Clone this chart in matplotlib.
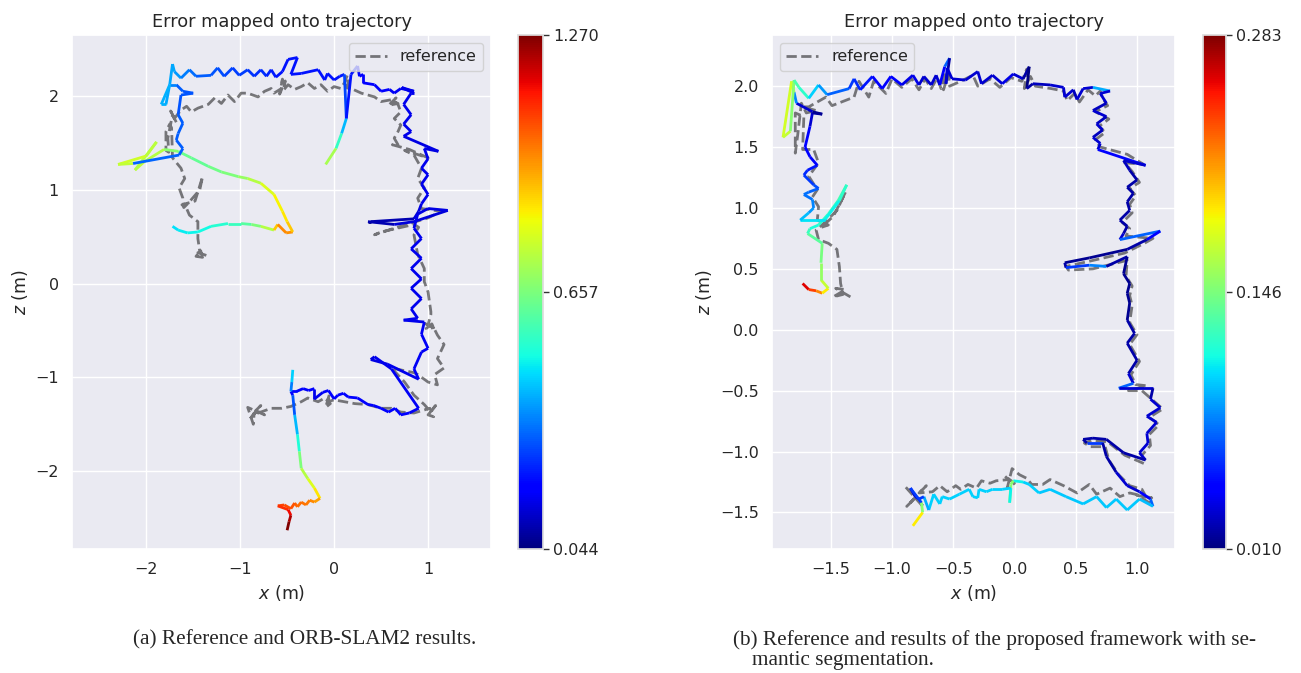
import numpy as np
import matplotlib
matplotlib.use("Agg")
import matplotlib.pyplot as plt
from matplotlib.collections import LineCollection
from matplotlib.colors import Normalize
from matplotlib.cm import ScalarMappable
import seaborn as sns

sns.set_theme(style="darkgrid")
plt.rcParams['font.family'] = ['DejaVu Sans']

nan = np.nan

# ORB-SLAM2 estimate (x, z, APE error); nan rows split the line into pieces
est_a = np.array([
    (-1.72, 0.61, 0.46), (-1.66, 0.57, 0.47), (-1.56, 0.54, 0.48), (-1.45, 0.55, 0.49),
    (-1.31, 0.61, 0.50), (-1.13, 0.64, 0.53), (-0.99, 0.64, 0.56), (-0.88, 0.63, 0.60),
    (-0.78, 0.61, 0.66), (-0.64, 0.57, 0.74), (-0.60, 0.63, 0.90), (-0.51, 0.54, 0.98),
    (-0.44, 0.55, 0.97), (-0.50, 0.66, 0.90), (-0.55, 0.77, 0.86), (-0.64, 0.95, 0.84),
    (-0.78, 1.07, 0.80), (-0.92, 1.12, 0.74), (-1.02, 1.14, 0.70), (-1.20, 1.19, 0.66),
    (-1.34, 1.25, 0.64), (-1.52, 1.34, 0.62), (-1.66, 1.41, 0.63), (-1.81, 1.43, 0.68),
    (-2.02, 1.30, 0.74), (-2.12, 1.21, 0.76), (-1.89, 1.51, 0.74), (-2.00, 1.36, 0.75),
    (-2.30, 1.27, 0.78), (-2.14, 1.28, 0.76), (-1.65, 1.37, 0.32), (-1.61, 1.44, 0.31),
    (-1.68, 1.53, 0.31), (-1.66, 1.60, 0.31), (-1.61, 1.71, 0.31), (-1.66, 1.80, 0.31),
    (-1.63, 2.01, 0.30), (-1.50, 2.03, 0.30), (-1.61, 2.05, 0.30), (-1.68, 2.12, 0.31),
    (-1.75, 2.12, 0.36), (-1.79, 1.91, 0.40), (-1.84, 1.91, 0.41), (-1.75, 2.12, 0.41),
    (-1.72, 2.34, 0.40), (-1.70, 2.26, 0.40), (-1.63, 2.19, 0.38), (-1.54, 2.28, 0.35),
    (-1.47, 2.21, 0.33), (-1.31, 2.22, 0.31), (-1.24, 2.30, 0.30), (-1.17, 2.21, 0.29),
    (-1.08, 2.30, 0.28), (-1.01, 2.22, 0.27), (-0.92, 2.28, 0.27), (-0.85, 2.21, 0.26),
    (-0.78, 2.28, 0.25), (-0.72, 2.21, 0.25), (-0.67, 2.28, 0.24), (-0.62, 2.20, 0.23),
    (-0.55, 2.26, 0.22), (-0.49, 2.39, 0.22), (-0.39, 2.41, 0.22), (-0.46, 2.23, 0.22),
    (-0.35, 2.24, 0.22), (-0.17, 2.28, 0.22), (-0.10, 2.17, 0.22), (-0.07, 2.24, 0.22),
    (0.00, 2.17, 0.22), (0.06, 2.21, 0.22), (0.11, 2.23, 0.23), (0.13, 1.76, 0.28),
    (0.08, 1.60, 0.42), (0.02, 1.44, 0.55), (-0.09, 1.27, 0.72),
    (nan, nan, nan),
    (0.13, 1.76, 0.28), (0.18, 2.23, 0.22), (0.25, 2.32, 0.22), (0.27, 2.21, 0.20),
    (0.31, 2.23, 0.20), (0.31, 2.14, 0.19), (0.43, 2.12, 0.19), (0.50, 2.05, 0.18),
    (0.59, 2.07, 0.18), (0.64, 2.03, 0.17), (0.71, 2.08, 0.17), (0.85, 2.05, 0.16),
    (0.72, 2.09, 0.16), (0.85, 2.03, 0.16), (0.82, 2.03, 0.16), (0.74, 1.91, 0.16),
    (0.82, 1.80, 0.16), (0.74, 1.70, 0.16), (0.82, 1.62, 0.16), (0.74, 1.57, 0.16),
    (1.11, 1.41, 0.15), (0.96, 1.44, 0.15), (1.00, 1.33, 0.16), (0.93, 1.23, 0.16),
    (1.00, 1.16, 0.16), (0.93, 1.06, 0.16), (1.00, 0.95, 0.16), (0.93, 0.85, 0.16),
    (0.90, 0.77, 0.15), (0.85, 0.69, 0.14), (0.39, 0.66, 0.10), (0.36, 0.66, 0.044),
    (0.64, 0.63, 0.10), (0.85, 0.66, 0.14), (1.21, 0.78, 0.14), (1.00, 0.80, 0.15),
    (0.89, 0.74, 0.15), (0.85, 0.59, 0.16), (0.93, 0.48, 0.16), (0.82, 0.37, 0.16),
    (0.93, 0.27, 0.16), (0.82, 0.16, 0.16), (0.93, 0.05, 0.16), (0.82, -0.05, 0.16),
    (0.93, -0.16, 0.16), (0.82, -0.27, 0.16), (0.89, -0.37, 0.16), (0.74, -0.39, 0.16),
    (0.96, -0.41, 0.16), (0.93, -0.54, 0.17), (1.00, -0.69, 0.17), (0.93, -0.73, 0.17),
    (0.85, -0.91, 0.17), (0.90, -1.02, 0.17), (0.57, -0.86, 0.16), (0.39, -0.81, 0.15),
    (0.43, -0.78, 0.15), (0.61, -0.91, 0.16), (0.90, -1.33, 0.17), (0.80, -1.38, 0.17),
    (0.71, -1.40, 0.18), (0.65, -1.33, 0.18), (0.58, -1.37, 0.18), (0.50, -1.33, 0.18),
    (0.42, -1.30, 0.18), (0.36, -1.29, 0.18), (0.25, -1.22, 0.18), (0.15, -1.21, 0.18),
    (0.10, -1.17, 0.18), (0.04, -1.19, 0.18), (0.00, -1.23, 0.18), (-0.06, -1.14, 0.18),
    (-0.12, -1.16, 0.18), (-0.21, -1.23, 0.16), (-0.21, -1.12, 0.16), (-0.27, -1.14, 0.18),
    (-0.33, -1.12, 0.19), (-0.40, -1.15, 0.19), (-0.46, -1.15, 0.20), (-0.44, -1.19, 0.20),
    (-0.42, -1.40, 0.30), (-0.39, -1.61, 0.42), (-0.37, -1.79, 0.52), (-0.35, -1.97, 0.66),
    (-0.28, -2.08, 0.74), (-0.21, -2.18, 0.80), (-0.15, -2.29, 0.86), (-0.21, -2.33, 0.95),
    (-0.26, -2.31, 0.98), (-0.30, -2.36, 1.00), (-0.35, -2.33, 1.01), (-0.39, -2.38, 1.02),
    (-0.42, -2.34, 1.03), (-0.46, -2.40, 1.05), (-0.53, -2.36, 1.06), (-0.60, -2.37, 1.07),
    (-0.49, -2.41, 1.10), (-0.46, -2.47, 1.15), (-0.48, -2.54, 1.22), (-0.50, -2.63, 1.27),
    (nan, nan, nan),
    (-0.46, -1.15, 0.20), (-0.45, -1.05, 0.35), (-0.44, -0.92, 0.45),
])
est_a_x, est_a_z, est_a_err = est_a[:, 0], est_a[:, 1], est_a[:, 2]

ref_a = np.array([
    (-1.36, 0.30), (-1.45, 0.33), (-1.40, 0.28), (-1.47, 0.29), (-1.42, 0.35), (-1.41, 0.31),
    (-1.43, 0.34), (-1.45, 0.48), (-1.45, 0.66), (-1.54, 0.73), (-1.57, 0.80), (-1.62, 0.84),
    (-1.48, 0.88), (-1.40, 1.14), (-1.43, 1.00), (-1.55, 0.86), (-1.60, 0.81), (-1.61, 0.91),
    (-1.65, 1.02), (-1.59, 1.12), (-1.63, 1.23), (-1.72, 1.34), (-1.73, 1.66), (-1.75, 1.70),
    (-1.79, 1.62), (-1.79, 1.42), (-1.76, 1.40), (-1.77, 1.55), (-1.72, 1.80), (-1.68, 1.72),
    (-1.74, 1.84), (-1.70, 1.76), (-1.63, 1.85), (-1.57, 1.89), (-1.52, 1.83), (-1.45, 1.87),
    (-1.34, 1.91), (-1.27, 1.98), (-1.20, 1.92), (-1.13, 2.01), (-1.06, 1.94), (-0.99, 2.03),
    (-0.92, 2.03), (-0.81, 1.99), (-0.74, 2.05), (-0.67, 2.08), (-0.64, 2.03), (-0.56, 2.08),
    (-0.55, 2.18), (-0.58, 2.02), (-0.52, 2.16), (-0.54, 2.06), (-0.49, 2.12), (-0.42, 2.07),
    (-0.35, 2.10), (-0.28, 2.14), (-0.21, 2.08), (-0.14, 2.12), (-0.07, 2.05), (0.00, 2.10),
    (0.07, 2.08), (0.11, 2.14), (0.14, 2.22), (0.16, 2.05), (0.12, 2.12), (0.18, 2.08),
    (0.29, 2.03), (0.43, 1.99), (0.50, 1.94), (0.61, 1.96), (0.66, 1.98), (0.58, 1.90),
    (0.68, 1.92), (0.62, 1.95), (0.68, 1.91), (0.71, 1.83), (0.64, 1.76), (0.71, 1.69),
    (0.68, 1.62), (0.64, 1.55), (0.68, 1.48), (0.62, 1.48), (0.80, 1.43), (1.00, 1.34),
    (0.75, 1.42), (0.85, 1.37), (0.93, 1.23), (0.89, 1.12), (0.96, 1.02), (0.89, 0.91),
    (0.93, 0.80), (1.14, 0.77), (1.00, 0.70), (0.64, 0.59), (0.43, 0.52), (0.50, 0.55),
    (0.85, 0.63), (0.90, 0.60), (0.85, 0.52), (0.89, 0.31), (0.96, 0.16), (0.96, 0.02),
    (1.00, -0.09), (1.03, -0.30), (1.03, -0.33), (1.00, -0.44), (0.95, -0.42), (1.06, -0.47),
    (0.98, -0.48), (1.04, -0.43), (1.10, -0.55), (1.17, -0.65), (1.10, -0.80), (1.17, -0.90),
    (1.07, -0.97), (1.10, -1.08), (1.00, -1.05), (0.89, -0.97), (0.85, -0.95), (0.61, -0.90),
    (0.75, -1.05), (0.85, -1.19), (0.96, -1.29), (1.03, -1.37), (1.08, -1.30), (1.00, -1.40),
    (1.06, -1.42), (1.02, -1.33), (0.85, -1.38), (0.71, -1.37), (0.61, -1.33), (0.50, -1.33),
    (0.36, -1.29), (0.22, -1.28), (0.11, -1.26), (0.00, -1.24), (-0.07, -1.26), (-0.05, -1.18),
    (-0.09, -1.32), (-0.04, -1.28), (-0.10, -1.22), (-0.17, -1.26), (-0.28, -1.22), (-0.35, -1.26),
    (-0.46, -1.31), (-0.56, -1.33), (-0.67, -1.33), (-0.78, -1.37), (-0.85, -1.37), (-0.78, -1.30),
    (-0.90, -1.45), (-0.84, -1.37), (-0.74, -1.40), (-0.92, -1.32), (-0.86, -1.50), (-0.85, -1.37),
])
ref_a_x, ref_a_z = ref_a[:, 0], ref_a[:, 1]

# estimate of the framework with semantic segmentation
est_b = np.array([
    (-1.73, 0.38, 0.283), (-1.68, 0.33, 0.26), (-1.62, 0.32, 0.24), (-1.57, 0.30, 0.22),
    (-1.52, 0.34, 0.19), (-1.58, 0.41, 0.17), (-1.58, 0.55, 0.155), (-1.57, 0.71, 0.145),
    (-1.69, 0.79, 0.135), (-1.67, 0.83, 0.125), (-1.60, 0.86, 0.115), (-1.52, 0.95, 0.12),
    (-1.44, 1.06, 0.125), (-1.37, 1.19, 0.13), (-1.43, 1.06, 0.12), (-1.55, 0.90, 0.11),
    (-1.75, 0.90, 0.105), (-1.68, 0.96, 0.095), (-1.64, 1.00, 0.085), (-1.65, 1.07, 0.08),
    (-1.72, 1.11, 0.075), (-1.68, 1.13, 0.075), (-1.60, 1.16, 0.07), (-1.64, 1.19, 0.065),
    (-1.72, 1.27, 0.06), (-1.69, 1.31, 0.055), (-1.61, 1.35, 0.05), (-1.67, 1.42, 0.045),
    (-1.71, 1.50, 0.045), (-1.67, 1.67, 0.04), (-1.65, 1.78, 0.03), (-1.57, 1.77, 0.02),
    (-1.65, 1.79, 0.015), (-1.78, 1.86, 0.03), (-1.80, 1.95, 0.08), (-1.82, 2.04, 0.16),
    (-1.89, 1.58, 0.175), (-1.83, 1.63, 0.17), (-1.80, 2.05, 0.15), (-1.76, 1.99, 0.13),
    (-1.68, 1.90, 0.12), (-1.60, 2.01, 0.10), (-1.53, 1.93, 0.085), (-1.35, 1.98, 0.07),
    (-1.31, 2.06, 0.06), (-1.26, 1.97, 0.055), (-1.16, 2.08, 0.05), (-1.08, 1.98, 0.045),
    (-1.01, 2.08, 0.04), (-0.92, 2.01, 0.04), (-0.83, 2.09, 0.035), (-0.78, 2.01, 0.035),
    (-0.74, 2.08, 0.03), (-0.68, 2.01, 0.03), (-0.64, 2.09, 0.03), (-0.61, 2.01, 0.03),
    (-0.57, 2.16, 0.04), (-0.53, 2.23, 0.07), (-0.56, 2.02, 0.02), (-0.55, 2.15, 0.03),
    (-0.51, 2.06, 0.03), (-0.40, 2.05, 0.03), (-0.30, 2.12, 0.03), (-0.27, 2.02, 0.03),
    (-0.18, 2.09, 0.03), (-0.10, 2.02, 0.03), (-0.01, 2.10, 0.035), (0.07, 2.06, 0.03),
    (0.12, 2.16, 0.02), (0.10, 1.98, 0.010), (0.15, 2.02, 0.02), (0.29, 2.01, 0.025),
    (0.40, 1.99, 0.03), (0.41, 1.91, 0.03), (0.48, 1.97, 0.03), (0.51, 1.89, 0.025),
    (0.56, 1.98, 0.03), (0.64, 1.99, 0.03), (0.78, 1.96, 0.09), (0.70, 1.94, 0.03),
    (0.75, 1.86, 0.03), (0.64, 1.80, 0.025), (0.75, 1.75, 0.03), (0.67, 1.69, 0.025),
    (0.72, 1.64, 0.03), (0.64, 1.58, 0.025), (0.70, 1.53, 0.03), (0.68, 1.48, 0.03),
    (1.07, 1.35, 0.045), (0.89, 1.39, 0.03), (0.94, 1.31, 0.025), (1.00, 1.23, 0.02),
    (0.92, 1.17, 0.02), (0.97, 1.12, 0.02), (0.92, 1.05, 0.02), (0.94, 0.98, 0.02),
    (0.86, 0.90, 0.02), (0.92, 0.85, 0.02), (0.89, 0.79, 0.02), (0.86, 0.74, 0.03),
    (1.19, 0.81, 0.07), (1.08, 0.74, 0.04), (0.92, 0.66, 0.02), (0.61, 0.59, 0.015),
    (0.41, 0.55, 0.015), (0.42, 0.51, 0.02), (0.61, 0.53, 0.06), (0.75, 0.52, 0.08),
    (0.92, 0.60, 0.02), (0.89, 0.46, 0.015), (0.94, 0.38, 0.015), (0.92, 0.30, 0.015),
    (0.94, 0.22, 0.015), (0.92, 0.08, 0.015), (0.98, -0.03, 0.02), (0.92, -0.11, 0.02),
    (1.00, -0.25, 0.02), (0.93, -0.36, 0.02), (0.97, -0.44, 0.03), (0.85, -0.48, 0.07),
    (1.13, -0.48, 0.03), (1.11, -0.57, 0.02), (1.19, -0.64, 0.03), (1.08, -0.71, 0.03),
    (1.16, -0.76, 0.03), (1.08, -0.85, 0.03), (1.09, -0.93, 0.03), (1.02, -1.01, 0.03),
    (1.07, -1.07, 0.03), (0.89, -1.01, 0.02), (0.75, -0.90, 0.02), (0.64, -0.89, 0.02),
    (0.56, -0.90, 0.02), (0.59, -0.93, 0.02), (0.72, -0.93, 0.06), (0.75, -1.04, 0.02),
    (0.83, -1.17, 0.02), (0.92, -1.28, 0.03), (1.02, -1.33, 0.03), (1.11, -1.39, 0.04),
    (1.13, -1.45, 0.07), (1.02, -1.39, 0.095), (0.92, -1.48, 0.098), (0.83, -1.39, 0.098),
    (0.75, -1.46, 0.098), (0.67, -1.37, 0.098), (0.56, -1.43, 0.098), (0.42, -1.37, 0.098),
    (0.29, -1.31, 0.098), (0.20, -1.34, 0.098), (0.12, -1.27, 0.10), (0.07, -1.25, 0.10),
    (-0.01, -1.24, 0.11), (-0.03, -1.27, 0.15), (-0.04, -1.42, 0.15), (-0.03, -1.30, 0.11),
    (-0.10, -1.31, 0.10), (-0.18, -1.31, 0.10), (-0.23, -1.33, 0.10), (-0.29, -1.31, 0.10),
    (-0.30, -1.38, 0.10), (-0.34, -1.37, 0.10), (-0.37, -1.31, 0.10), (-0.45, -1.35, 0.10),
    (-0.53, -1.39, 0.10), (-0.59, -1.37, 0.10), (-0.61, -1.43, 0.10), (-0.66, -1.35, 0.10),
    (-0.70, -1.48, 0.10), (-0.74, -1.37, 0.09), (-0.78, -1.39, 0.06), (-0.81, -1.37, 0.03),
    (-0.85, -1.30, 0.03), (-0.76, -1.42, 0.06), (-0.75, -1.50, 0.15), (-0.83, -1.61, 0.19),
])
est_b_x, est_b_z, est_b_err = est_b[:, 0], est_b[:, 1], est_b[:, 2]

ref_b = np.array([
    (-1.34, 0.27), (-1.46, 0.34), (-1.38, 0.33), (-1.48, 0.27), (-1.40, 0.29), (-1.42, 0.38),
    (-1.43, 0.52), (-1.45, 0.66), (-1.52, 0.71), (-1.60, 0.74), (-1.62, 0.82), (-1.55, 0.88),
    (-1.45, 0.98), (-1.38, 1.13), (-1.48, 0.93), (-1.58, 0.84), (-1.52, 0.86), (-1.61, 0.90),
    (-1.60, 1.01), (-1.65, 1.09), (-1.61, 1.15), (-1.68, 1.26), (-1.60, 1.37), (-1.64, 1.48),
    (-1.73, 1.48), (-1.72, 1.75), (-1.79, 1.78), (-1.79, 1.45), (-1.77, 1.60), (-1.74, 1.86),
    (-1.70, 1.78), (-1.62, 1.80), (-1.73, 1.83), (-1.68, 1.83), (-1.54, 1.91), (-1.49, 1.84),
    (-1.31, 1.91), (-1.27, 2.04), (-1.19, 1.91), (-1.15, 2.04), (-1.05, 1.94), (-1.00, 2.06),
    (-0.92, 1.99), (-0.84, 2.06), (-0.78, 1.97), (-0.73, 2.06), (-0.68, 1.98), (-0.63, 2.07),
    (-0.60, 1.98), (-0.57, 2.12), (-0.58, 1.97), (-0.54, 2.10), (-0.53, 2.00), (-0.44, 2.04),
    (-0.34, 2.09), (-0.30, 2.00), (-0.20, 2.06), (-0.12, 1.99), (-0.03, 2.07), (0.06, 2.04),
    (0.10, 2.14), (0.08, 1.98), (0.13, 2.08), (0.17, 2.00), (0.30, 1.98), (0.40, 1.96),
    (0.43, 1.88), (0.49, 1.94), (0.53, 1.87), (0.60, 1.97), (0.66, 1.92), (0.70, 1.96),
    (0.72, 1.90), (0.76, 1.84), (0.66, 1.79), (0.77, 1.73), (0.69, 1.67), (0.74, 1.62),
    (0.66, 1.56), (0.70, 1.50), (0.92, 1.44), (1.05, 1.36), (0.90, 1.37), (0.96, 1.30),
    (1.02, 1.21), (0.94, 1.16), (0.99, 1.10), (0.94, 1.03), (0.96, 0.96), (0.88, 0.88),
    (0.94, 0.83), (0.91, 0.77), (1.13, 0.75), (1.06, 0.71), (0.90, 0.63), (0.60, 0.56),
    (0.42, 0.52), (0.44, 0.49), (0.64, 0.50), (0.92, 0.57), (0.91, 0.44), (0.96, 0.36),
    (0.94, 0.28), (0.96, 0.20), (0.94, 0.06), (1.00, -0.04), (0.94, -0.12), (1.02, -0.26),
    (0.95, -0.37), (0.99, -0.45), (1.08, -0.46), (0.93, -0.50), (1.04, -0.50), (1.13, -0.58),
    (1.21, -0.65), (1.10, -0.72), (1.18, -0.78), (1.10, -0.86), (1.11, -0.95), (1.04, -1.03),
    (1.06, -1.10), (0.90, -1.03), (0.76, -0.92), (0.63, -0.91), (0.57, -0.93), (0.62, -0.96),
    (0.74, -0.96), (0.77, -1.07), (0.85, -1.19), (0.94, -1.28), (1.04, -1.31), (1.10, -1.42),
    (1.00, -1.36), (1.12, -1.38), (0.94, -1.34), (0.86, -1.37), (0.78, -1.30), (0.67, -1.35),
    (0.61, -1.27), (0.51, -1.34), (0.40, -1.28), (0.29, -1.23), (0.23, -1.27), (0.14, -1.27),
    (0.10, -1.22), (0.04, -1.19), (-0.02, -1.14), (-0.06, -1.30), (0.00, -1.26), (-0.08, -1.20),
    (-0.05, -1.23), (-0.15, -1.24), (-0.20, -1.26), (-0.27, -1.24), (-0.31, -1.30), (-0.38, -1.27),
    (-0.44, -1.31), (-0.48, -1.28), (-0.55, -1.33), (-0.61, -1.28), (-0.67, -1.33), (-0.78, -1.34),
    (-0.72, -1.28), (-0.88, -1.45), (-0.80, -1.37), (-0.74, -1.46), (-0.89, -1.29), (-0.80, -1.37),
])
ref_b_x, ref_b_z = ref_b[:, 0], ref_b[:, 1]

W, H = 1301, 673


def box(x0, y0, x1, y1):
    # pixel box -> figure fraction rect
    return [x0 / W, 1 - y1 / H, (x1 - x0) / W, (y1 - y0) / H]


def draw(ax, cax, ex, ez, err, rx, rz, xlim, ylim, xticks, yticks, legend_loc):
    ax.plot(rx, rz, '--', color='black', alpha=0.5, lw=2.0, label='reference')
    pts = np.column_stack([ex, ez])
    segs = np.stack([pts[:-1], pts[1:]], axis=1)
    vals = err[1:]
    ok = np.isfinite(segs).all(axis=(1, 2))
    norm = Normalize(vmin=np.nanmin(err), vmax=np.nanmax(err))
    lc = LineCollection(segs[ok], cmap='jet', norm=norm, lw=2.0)
    lc.set_array(vals[ok])
    ax.add_collection(lc)
    ax.set_xlim(*xlim)
    ax.set_ylim(*ylim)
    ax.set_xticks(xticks)
    ax.set_yticks(yticks)
    ax.set_xlabel('$x$ (m)', fontsize=12.5)
    ax.set_ylabel('$z$ (m)', fontsize=12.5)
    ax.set_title('Error mapped onto trajectory', fontsize=12.75)
    ax.tick_params(labelsize=11.5)
    ax.legend(loc=legend_loc, fontsize=11.5)

    sm = ScalarMappable(norm=norm, cmap='jet')
    lo, hi = norm.vmin, norm.vmax
    ticks = [lo, lo + (hi - lo) / 2, hi]
    cb = plt.colorbar(sm, cax=cax, ticks=ticks)
    cb.ax.set_yticklabels(['{0:0.3f}'.format(t) for t in ticks])
    cb.ax.tick_params(right=True, length=4, width=1, color='#333333', labelsize=11.5)
    cb.outline.set_edgecolor('#dddddd')


fig = plt.figure(figsize=(W / 100, H / 100), dpi=100)
ax1 = fig.add_axes(box(72, 35, 491, 549))
cax1 = fig.add_axes(box(518, 35, 543, 549))
ax2 = fig.add_axes(box(772, 35, 1175, 549))
cax2 = fig.add_axes(box(1203, 35, 1226, 549))

draw(ax1, cax1, est_a_x, est_a_z, est_a_err, ref_a_x, ref_a_z,
     (-2.79, 1.67), (-2.83, 2.65), [-2, -1, 0, 1], [-2, -1, 0, 1, 2], 'upper right')
draw(ax2, cax2, est_b_x, est_b_z, est_b_err, ref_b_x, ref_b_z,
     (-1.98, 1.31), (-1.80, 2.42), [-1.5, -1.0, -0.5, 0.0, 0.5, 1.0],
     [-1.5, -1.0, -0.5, 0.0, 0.5, 1.0, 1.5, 2.0], 'upper left')

cap = dict(family=['Liberation Serif', 'DejaVu Serif'], fontsize=15.3, va='center')
fig.text(305 / W, 1 - 640 / H, '(a) Reference and ORB-SLAM2 results.', ha='center', **cap)
fig.text(733 / W, 1 - 640 / H, '(b) Reference and results of the proposed framework with se-',
         ha='left', **cap)
fig.text(752 / W, 1 - 661 / H, 'mantic segmentation.', ha='left', **cap)

fig.savefig('out.png', dpi=100)
